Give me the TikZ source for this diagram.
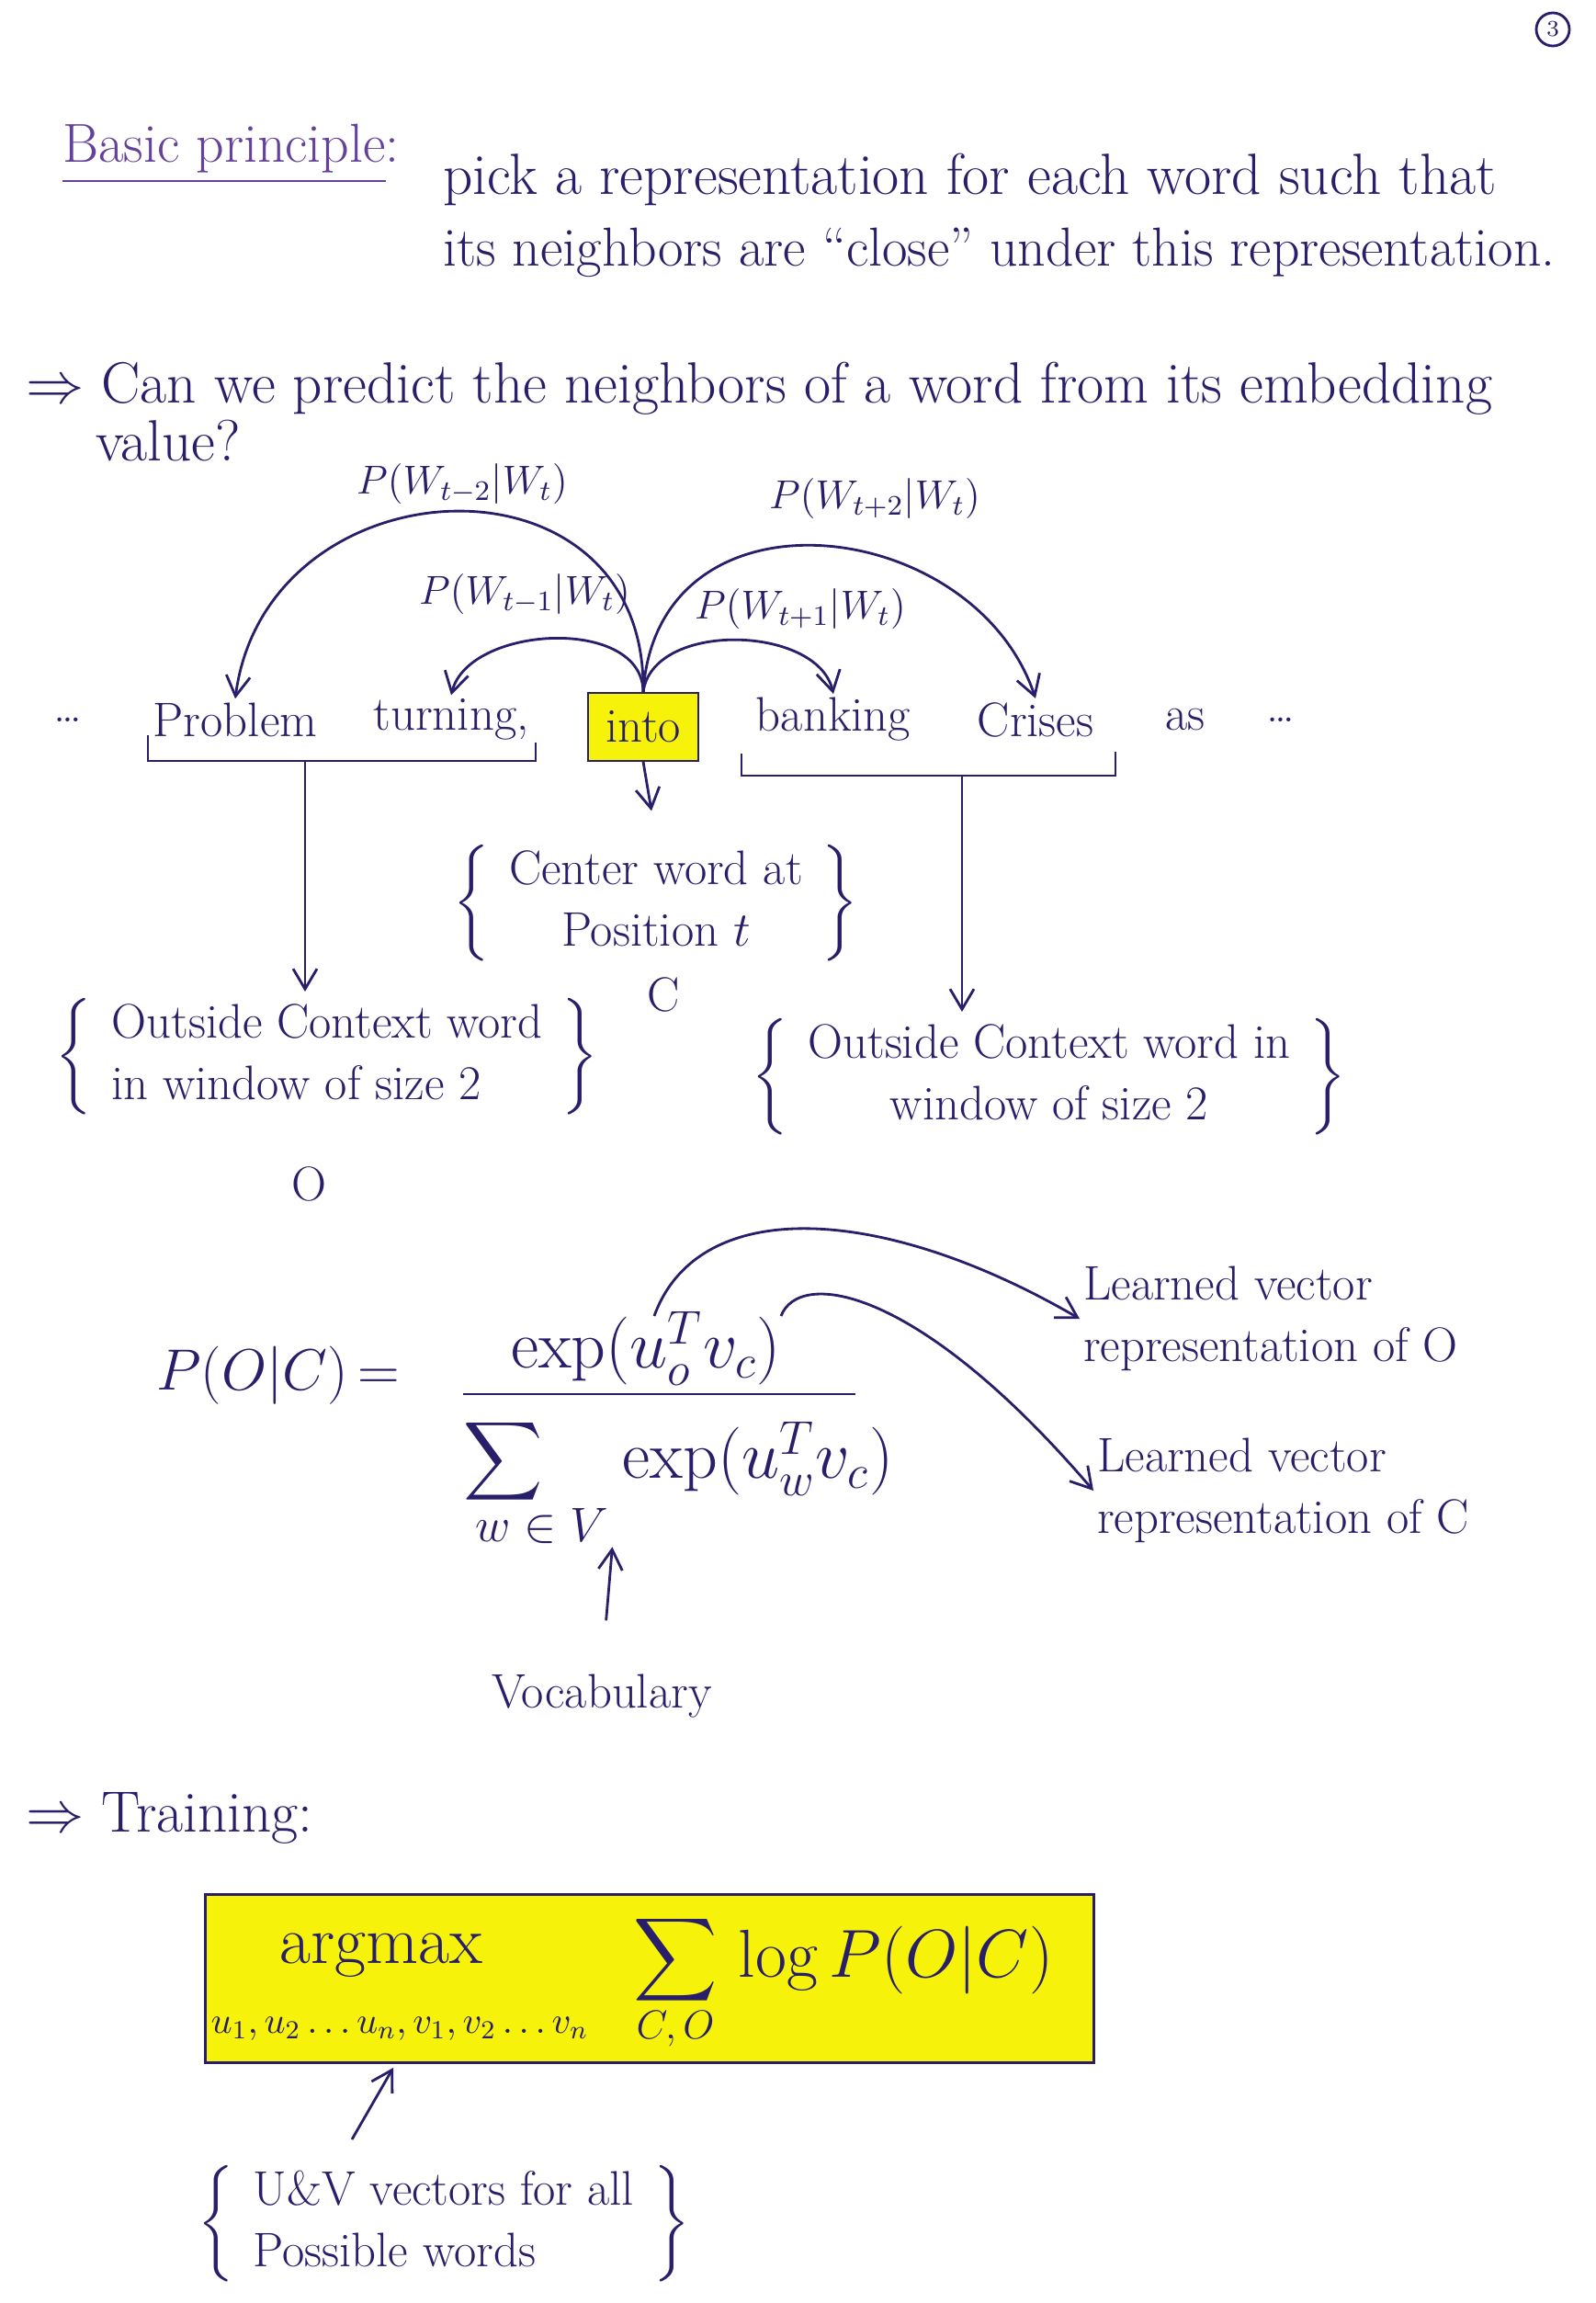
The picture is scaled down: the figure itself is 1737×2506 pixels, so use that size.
\RequirePackage{fix-cm}
\documentclass[tikz,border=0pt]{standalone}
\usepackage{fontspec}
\usepackage{amsmath, amssymb}
\usepackage{xcolor}
\usetikzlibrary{arrows.meta, calc}

\definecolor{ink}{RGB}{40,30,105}
\definecolor{inkp}{RGB}{100,65,155}
\definecolor{hilite}{RGB}{246,242,10}

\tikzset{
  txt/.style={ink, font=\fontsize{15}{19}\selectfont, inner sep=1pt},
  head/.style={ink, font=\fontsize{18}{22}\selectfont, inner sep=1pt, anchor=west},
  lab/.style={ink, font=\fontsize{12.5}{15}\selectfont, inner sep=1pt},
  big/.style={ink, font=\fontsize{21}{25}\selectfont, inner sep=1pt},
  arr/.style={ink, thick, -{Straight Barb[length=2.2mm, width=2.6mm]}},
  brk/.style={ink, thick},
}

\begin{document}
\begin{tikzpicture}[x=0.01cm, y=-0.01cm]
    \useasboundingbox (0,0) rectangle (1737,2506);
    \node[draw=ink, thick, circle, inner sep=1pt, minimum size=0.36cm, ink, font=\scriptsize] (pg) at (1690,32) {3};

    % Basic principle
    \node[head, inkp, font=\fontsize{17}{21}\selectfont] (bp) at (64,168) {\underline{Basic principle}:};
    \node[head] (bp1) at (478,195) {pick a representation for each word such that};
    \node[head, font=\fontsize{17}{21}\selectfont] (bp2) at (478,275) {its neighbors are ``close'' under this representation.};

    % Question
    \node[head] (q1) at (24,423) {$\Rightarrow$ Can we predict the neighbors of a word from its embedding};
    \node[head] (q2) at (100,480) {value?};

    % Sentence with centre word
    \node[txt] (dl) at (74,783) {\dots};
    \node[txt] (prob) at (256,783) {Problem};
    \node[txt] (turn) at (491,783) {turning,};
    \node[txt, draw=ink, fill=hilite, minimum width=1.2cm, minimum height=0.74cm] (into) at (700,791) {into};
    \node[txt] (bank) at (907,783) {banking};
    \node[txt] (cris) at (1127,783) {Crises};
    \node[txt] (as) at (1290,783) {as};
    \node[txt] (dr) at (1394,783) {\dots};

    % Probabilities
    \node[lab] (pm2) at (503,527) {$P(W_{t-2}|W_t)$};
    \node[lab] (pp2) at (952,543) {$P(W_{t+2}|W_t)$};
    \node[lab] (pm1) at (571,647) {$P(W_{t-1}|W_t)$};
    \node[lab] (pp1) at (871,663) {$P(W_{t+1}|W_t)$};
    \draw[arr] (into.north) .. controls (705,480) and (290,500) .. (prob.north);
    \draw[arr] (into.north) .. controls (715,520) and (1060,560) .. (cris.north);
    \draw[arr] (into.north) .. controls (700,670) and (510,680) .. (turn.north);
    \draw[arr] (into.north) .. controls (710,675) and (890,680) .. (bank.north);

    % Windows
    \draw[brk] (161,800) |- (583,828) -- (583,808);
    \coordinate (lbm) at (332,828);
    \draw[brk] (807,820) |- (1214,844) -- (1214,818);
    \coordinate (rbm) at (1047,844);

    \node[txt] (cent) at (714,983) {$\left\{\begin{tabular}{c}Center word at\\Position $t$\end{tabular}\right\}$};
    \node[txt] (cc) at (722,1082) {C};
    \node[txt] (outl) at (356,1150) {$\left\{\begin{tabular}{l}Outside Context word\\in window of size 2\end{tabular}\right\}$};
    \node[txt] (oo) at (336,1288) {O};
    \node[txt] (outr) at (1142,1172) {$\left\{\begin{tabular}{c}Outside Context word in\\window of size 2\end{tabular}\right\}$};
    \draw[arr, shorten >=0.3cm] (into.south) -- (cent.north);
    \draw[arr] (lbm) -- (lbm |- outl.north);
    \draw[arr] (rbm) -- (rbm |- outr.north);

    % Softmax
    \node[big, font=\fontsize{18}{22}\selectfont, anchor=west] (poc) at (166,1497) {$P(O|C)$\,=};
    \node[big] (num) at (703,1467) {$\exp(u_o^T v_c)$};
    \draw[ink, thick] (504,1517) -- (931,1517);
    \node[big, font=\fontsize{17}{21}\selectfont] (sig) at (548,1590) {$\displaystyle\sum$};
    \node[big] (den) at (825,1587) {$\exp(u_w^T v_c)$};
    \node[txt] (wev) at (590,1660) {$w\in V$};
    \coordinate (uo) at (712,1432);
    \coordinate (vc) at (850,1432);
    \node[txt, anchor=west, align=left] (lo) at (1175,1435) {Learned vector\\representation of O};
    \node[txt, anchor=west, align=left] (lc) at (1190,1622) {Learned vector\\representation of C};
    \draw[arr] (uo) .. controls (760,1300) and (960,1310) .. (lo.west);
    \draw[arr] (vc) .. controls (870,1380) and (1000,1400) .. (lc.west);
    \node[txt] (voc) at (655,1846) {Vocabulary};
    \draw[arr, shorten <=0.55cm] (voc.north) -- (wev.south east);

    % Training
    \node[head] (tr) at (24,1978) {$\Rightarrow$ Training:};
    \node[draw=ink, thick, fill=hilite, minimum width=9.66cm, minimum height=1.83cm] (obj) at (707,2153) {};
    \node[big] (am) at (415,2128) {argmax};
    \node[lab, font=\fontsize{11.5}{14}\selectfont] (amsub) at (435,2208) {$u_1,u_2 \ldots u_n, v_1, v_2 \ldots v_n$};
    \node[big, font=\fontsize{18}{22}\selectfont] (sm) at (735,2133) {$\displaystyle\sum$};
    \node[lab] (smsub) at (735,2208) {$C,O$};
    \node[big] (lp) at (975,2133) {$\log P(O|C)$};
    \node[txt] (uv) at (483,2420) {$\left\{\begin{tabular}{l}U\&V vectors for all\\Possible words\end{tabular}\right\}$};
    \coordinate (uvt) at (383,2328);
    \coordinate (uvh) at (428,2250);
    \draw[arr] (uvt) -- (uvh);
\end{tikzpicture}
\end{document}
